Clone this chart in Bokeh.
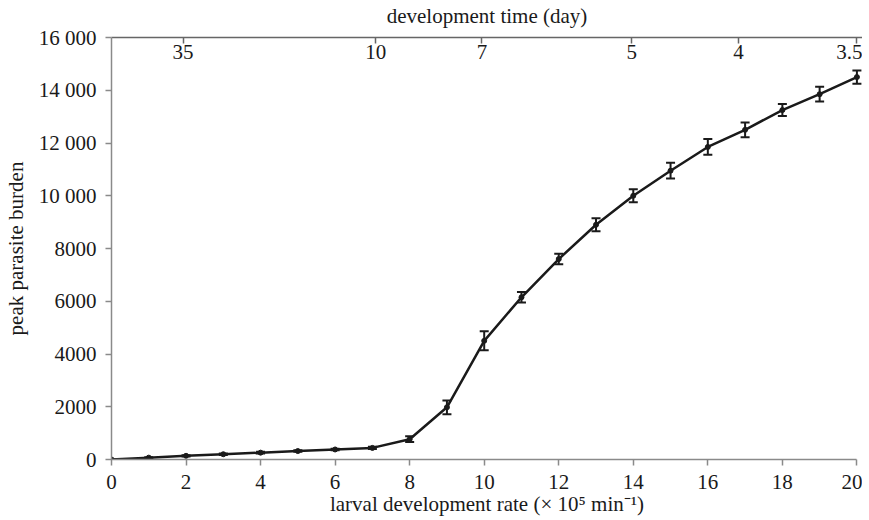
from bokeh.plotting import figure
from bokeh.models import (LinearAxis, FixedTicker, Range1d, Whisker, ColumnDataSource,
                          TeeHead, CustomJSTickFormatter)
from bokeh.embed import file_html
from bokeh.resources import INLINE

# ---- data ----
rate = [0, 1, 2, 3, 4, 5, 6, 7, 8, 9, 10, 11, 12, 13, 14, 15, 16, 17, 18, 19, 20]
burden = [0, 70, 140, 200, 260, 320, 380, 440, 770, 1980, 4500, 6150, 7600, 8900,
          10000, 10950, 11850, 12500, 13250, 13850, 14500]
err = [10, 20, 25, 30, 30, 30, 30, 40, 110, 260, 360, 200, 200, 250,
       250, 300, 300, 280, 230, 280, 250]

x_ticks = [0, 2, 4, 6, 8, 10, 12, 14, 16, 18, 20]
y_ticks = [0, 2000, 4000, 6000, 8000, 10000, 12000, 14000, 16000]
y_tick_labels = ["0", "2000", "4000", "6000", "8000", "10 000", "12 000", "14 000", "16 000"]
top_tick_pos = [1.92, 7.09, 9.94, 13.96, 16.82, 20.0]
top_tick_labels = ["35", "10", "7", "5", "4", "3.5"]

FONT = "Liberation Serif"
AX_COL = "#8a8a8a"
TXT = "#1a1a1a"

p = figure(frame_width=751, frame_height=422, x_range=Range1d(0, 20.15), y_range=Range1d(0, 16000),
           output_backend="svg", toolbar_location=None,
           min_border_left=102, min_border_right=0, min_border_top=30, min_border_bottom=0)
p.grid.visible = False
p.outline_line_color = None
p.background_fill_color = "white"
p.border_fill_color = "white"

lab_fmt = """
const i = pos.findIndex(v => Math.abs(v - tick) < 1e-6);
return i >= 0 ? labs[i] : '';
"""

# bottom axis
xa = p.xaxis[0]
xa.ticker = FixedTicker(ticks=x_ticks)
xa.bounds = (0, 20)
xa.axis_label = "larval development rate (× 10⁵ min⁻¹)"

# left axis
ya = p.yaxis[0]
ya.ticker = FixedTicker(ticks=y_ticks)
ya.formatter = CustomJSTickFormatter(args=dict(pos=y_ticks, labs=y_tick_labels), code=lab_fmt)
ya.axis_label = "peak parasite burden"

# top axis
ta = LinearAxis(ticker=FixedTicker(ticks=top_tick_pos),
                formatter=CustomJSTickFormatter(args=dict(pos=top_tick_pos, labs=top_tick_labels), code=lab_fmt),
                axis_label="development time (day)")
p.add_layout(ta, "above")

for ax in (xa, ya, ta):
    ax.axis_line_color = AX_COL
    ax.axis_line_width = 1.5
    ax.major_tick_line_color = AX_COL
    ax.major_tick_line_width = 1.5
    ax.minor_tick_line_color = None
    ax.major_tick_out = 6
    ax.major_tick_in = 0
    ax.major_label_text_font = FONT
    ax.major_label_text_font_size = "21px"
    ax.major_label_text_color = TXT
    ax.axis_label_text_font = FONT
    ax.axis_label_text_font_size = "21px"
    ax.axis_label_text_font_style = "normal"
    ax.axis_label_text_color = TXT

ya.major_label_standoff = 9
ya.axis_label_standoff = 8
xa.major_label_standoff = 9
xa.axis_label_standoff = 0
ta.axis_line_color = "#666666"
ta.major_tick_line_color = "#666666"
ta.major_tick_out = 0
ta.major_tick_in = 6
ta.major_label_standoff = -21
ta.axis_label_standoff = 14

src = ColumnDataSource(dict(x=rate, y=burden,
                            upper=[b + e for b, e in zip(burden, err)],
                            lower=[b - e for b, e in zip(burden, err)]))

p.line("x", "y", source=src, line_color="#1a1a1a", line_width=2.5)
p.scatter("x", "y", source=src, size=5, color="#1a1a1a")
w = Whisker(source=src, base="x", upper="upper", lower="lower", dimension="height",
            line_color="#1a1a1a", line_width=2,
            upper_head=TeeHead(size=9, line_color="#1a1a1a", line_width=2),
            lower_head=TeeHead(size=9, line_color="#1a1a1a", line_width=2))
p.add_layout(w)

open("out.html", "w").write(file_html(p, INLINE))
